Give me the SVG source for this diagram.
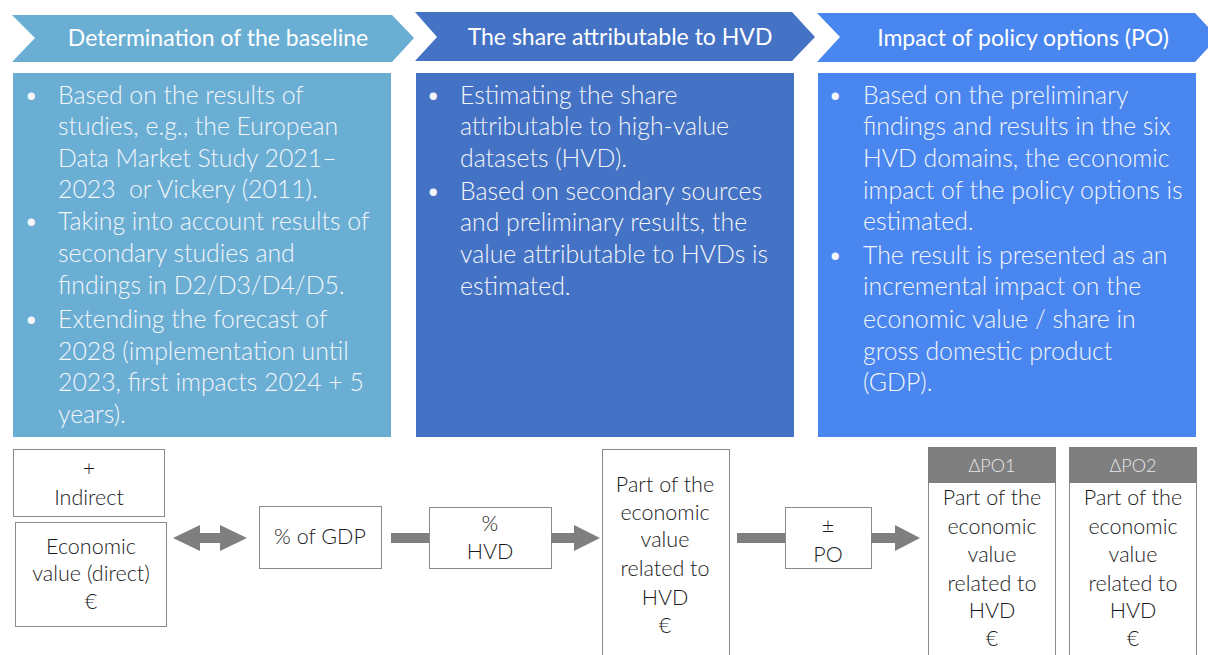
<svg xmlns="http://www.w3.org/2000/svg" width="1208" height="655" viewBox="0 0 1208 655">
<style>
.ttl{font-family:Lato,"Liberation Sans",sans-serif;font-size:23px;fill:#fff;text-anchor:middle}
.bt{font-family:Lato,"Liberation Sans",sans-serif;font-size:24.8px;font-weight:300;fill:#f4f6fa}
.bx{fill:#fff;stroke:#8a8a8a;stroke-width:1}
.lb{font-family:Lato,"Liberation Sans",sans-serif;font-size:21.5px;font-weight:300;fill:#1a1a1a;text-anchor:middle}
.hd{font-family:Lato,"Liberation Sans",sans-serif;font-size:18px;font-weight:300;fill:#e8e8e8;text-anchor:middle}
.ar{fill:#7f7f7f}
</style>
<rect width="1208" height="655" fill="#fff"/>
<g id="stage1">
<polygon points="12,15 392,15 414,38 392,62 12,62 35,38" fill="#6aaed4"/>
<text class="ttl" x="218" y="46">Determination of the baseline</text>
<rect x="13" y="73" width="378" height="364" fill="#6aaed4"/>
<g class="bt">
<text x="24" y="104">•</text><text x="58" y="104">Based on the results of</text>
<text x="58" y="135">studies, e.g., the European</text>
<text x="58" y="167">Data Market Study 2021–</text>
<text x="58" y="198" xml:space="preserve">2023  or Vickery (2011).</text>
<text x="24" y="230">•</text><text x="58" y="230">Taking into account results of</text>
<text x="58" y="262">secondary studies and</text>
<text x="58" y="294">findings in D2/D3/D4/D5.</text>
<text x="24" y="328">•</text><text x="58" y="328">Extending the forecast of</text>
<text x="58" y="360">2028 (implementation until</text>
<text x="58" y="391">2023, first impacts 2024 + 5</text>
<text x="58" y="423">years).</text>
</g>
</g>
<g id="stage2">
<polygon points="415,12 792,12 815,37 792,61 415,61 437,37" fill="#4472c4"/>
<text class="ttl" x="620" y="45">The share attributable to HVD</text>
<rect x="416" y="73" width="378" height="364" fill="#4472c4"/>
<g class="bt">
<text x="426" y="104">•</text><text x="460" y="104">Estimating the share</text>
<text x="460" y="135">attributable to high-value</text>
<text x="460" y="167">datasets (HVD).</text>
<text x="426" y="200">•</text><text x="460" y="200">Based on secondary sources</text>
<text x="460" y="231">and preliminary results, the</text>
<text x="460" y="263">value attributable to HVDs is</text>
<text x="460" y="295">estimated.</text>
</g>
</g>
<g id="stage3">
<polygon points="817,13 1195,13 1208,27 1208,48 1195,62 817,62 840,37" fill="#4a86f0"/>
<text class="ttl" x="1023" y="46">Impact of policy options (PO)</text>
<rect x="818" y="73" width="378" height="364" fill="#4a86f0"/>
<g class="bt">
<text x="828" y="104">•</text><text x="863" y="104">Based on the preliminary</text>
<text x="863" y="135">findings and results in the six</text>
<text x="863" y="167">HVD domains, the economic</text>
<text x="863" y="199">impact of the policy options is</text>
<text x="863" y="230">estimated.</text>
<text x="828" y="264">•</text><text x="863" y="264">The result is presented as an</text>
<text x="863" y="295">incremental impact on the</text>
<text x="863" y="328">economic value / share in</text>
<text x="863" y="360">gross domestic product</text>
<text x="863" y="391">(GDP).</text>
</g>
</g>
<g id="indirect">
<rect class="bx" x="13.5" y="449.5" width="151" height="67"/>
<text class="lb" x="89" y="476">+</text>
<text class="lb" x="89" y="505">Indirect</text>
</g>
<g id="direct">
<rect class="bx" x="15.5" y="522.5" width="151" height="104"/>
<text class="lb" x="91" y="554">Economic</text>
<text class="lb" x="91" y="581">value (direct)</text>
<text class="lb" x="91" y="609">€</text>
</g>
<g id="gdp">
<rect class="bx" x="259.5" y="506.5" width="122" height="62"/>
<text class="lb" x="320" y="544">% of GDP</text>
</g>
<g id="hvdshare">
<rect class="bx" x="429.5" y="507.5" width="122" height="61"/>
<text class="lb" x="490" y="531">%</text>
<text class="lb" x="490" y="559">HVD</text>
</g>
<g id="parthvd">
<rect class="bx" x="602.5" y="449.5" width="127" height="215"/>
<text class="lb" x="665" y="492">Part of the</text>
<text class="lb" x="665" y="520">economic</text>
<text class="lb" x="665" y="547">value</text>
<text class="lb" x="665" y="576">related to</text>
<text class="lb" x="665" y="605">HVD</text>
<text class="lb" x="665" y="633">€</text>
</g>
<g id="po">
<rect class="bx" x="785.5" y="507.5" width="86" height="61"/>
<text class="lb" x="828" y="533">±</text>
<text class="lb" x="828" y="562">PO</text>
</g>
<g id="po1">
<rect class="bx" x="928.5" y="447.5" width="127" height="217"/>
<rect x="928" y="447" width="128" height="36" fill="#7f7f7f"/>
<text class="hd" x="992" y="472">ΔPO1</text>
<text class="lb" x="992" y="505">Part of the</text>
<text class="lb" x="992" y="534">economic</text>
<text class="lb" x="992" y="562">value</text>
<text class="lb" x="992" y="591">related to</text>
<text class="lb" x="992" y="618">HVD</text>
<text class="lb" x="992" y="646">€</text>
</g>
<g id="po2">
<rect class="bx" x="1069.5" y="447.5" width="127" height="217"/>
<rect x="1069" y="447" width="128" height="36" fill="#7f7f7f"/>
<text class="hd" x="1133" y="472">ΔPO2</text>
<text class="lb" x="1133" y="505">Part of the</text>
<text class="lb" x="1133" y="534">economic</text>
<text class="lb" x="1133" y="562">value</text>
<text class="lb" x="1133" y="591">related to</text>
<text class="lb" x="1133" y="618">HVD</text>
<text class="lb" x="1133" y="646">€</text>
</g>
<g id="connectors" class="ar">
<polygon points="173,538 200,525 200,533 220,533 220,525 247,538 220,551 220,543 200,543 200,551"/>
<rect x="391" y="533" width="38" height="10"/>
<polygon points="551,533 574,533 574,525 600,538 574,551 574,543 551,543"/>
<rect x="737" y="533" width="48" height="10"/>
<polygon points="871,533 895,533 895,525 920,538 895,551 895,543 871,543"/>
</g>
</svg>
